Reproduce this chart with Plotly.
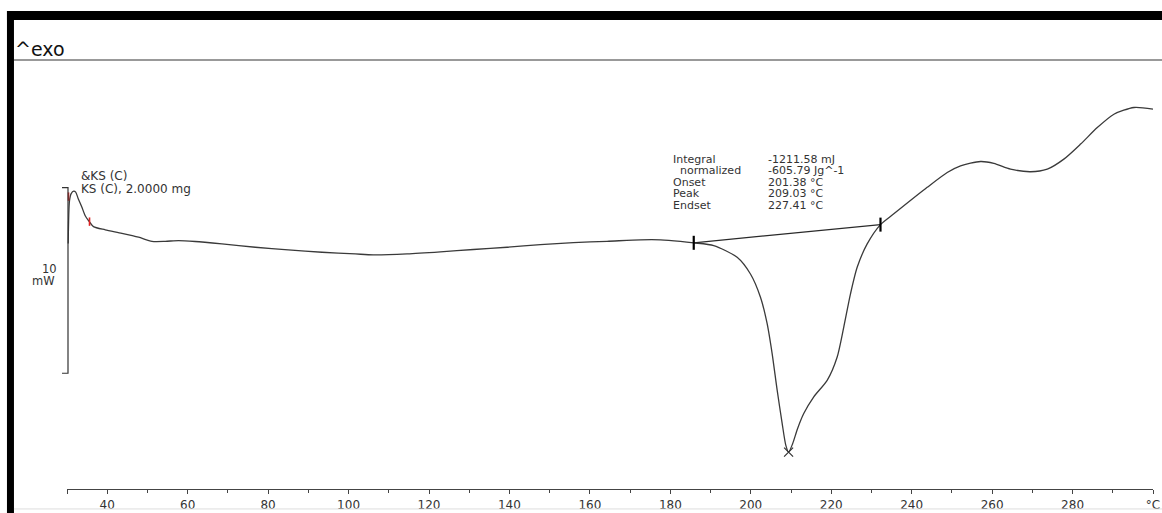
import plotly.graph_objects as go

# ---------------- data ----------------
temperature_c = [30.30, 30.62, 31.04, 31.67, 32.16, 32.79, 33.71, 34.53, 35.35, 36.59,
                 39.50, 43.65, 47.78, 51.12, 54.42, 57.73, 61.88, 68.52, 76.81, 85.01,
                 93.40, 101.68, 106.15, 114.53, 122.82, 131.03, 139.41, 147.69, 155.90, 164.28,
                 172.57, 177.54, 182.51, 185.82, 190.79, 196.61, 199.92, 202.41, 204.07, 205.31,
                 206.56, 207.80, 208.70, 209.40, 210.40, 211.60, 213.17, 215.66, 218.99, 221.48,
                 223.12, 224.79, 226.45, 228.94, 232.25, 235.56, 243.86, 248.84, 252.15, 257.12,
                 260.43, 264.58, 269.56, 273.71, 277.84, 282.00, 286.15, 290.28, 295.26, 300.00]
heat_flow_mw = [-0.16, 2.15, 2.53, 2.66, 2.61, 2.26, 1.79, 1.34, 1.08, 0.75,
                0.58, 0.39, 0.18, -0.04, -0.04, 0.00, -0.05, -0.18, -0.36, -0.50,
                -0.63, -0.72, -0.77, -0.72, -0.61, -0.48, -0.36, -0.22, -0.11, -0.04,
                0.04, 0.04, -0.04, -0.12, -0.27, -0.90, -1.80, -3.05, -4.48, -6.09,
                -8.06, -9.85, -11.02, -11.40, -10.95, -10.15, -9.32, -8.42, -7.53, -6.27,
                -4.66, -2.87, -1.44, -0.18, 0.86, 1.44, 2.87, 3.67, 4.03, 4.26,
                4.16, 3.85, 3.71, 3.85, 4.39, 5.20, 6.09, 6.81, 7.17, 7.08]

limit_T = [185.82, 232.25]          # integration limits (onset / endset markers)
limit_mw = [-0.12, 0.86]
peak_T = [209.40]
peak_mw = [-11.40]
red_T = [30.37, 35.60]              # red evaluation marks at start
red_mw = [2.37, 1.02]

scale_top_mw = 2.85                 # 10 mW scale bar
scale_len_mw = 10.0

tick_vals = [30, 40, 60, 80, 100, 120, 140, 160, 180, 200, 220, 240, 260, 280, 300]
tick_text = ["", "40", "60", "80", "100", "120", "140", "160", "180", "200",
             "220", "240", "260", "280", "°C"]
minor_vals = [50, 70, 90, 110, 130, 150, 170, 190, 210, 230, 250, 270, 290]

eval_labels = ["Integral", "  normalized", "Onset", "Peak", "Endset"]
eval_values = ["-1211.58 mJ", "-605.79 Jg^-1", "201.38 °C", "209.03 °C", "227.41 °C"]

# ---------------- layout helpers ----------------
# target picture is 1162x513; the page is drawn slightly larger to offset
# the capture's page margin.
TW, TH = 1162, 513
W, H = 1170, 521
SX, SY = W / TW, H / TH
L = 67 * SX
R = W - 1152.4 * SX
T = 60 * SY
B = H - 489 * SY
PW, PH = W - L - R, H - T - B


def px(x):
    return (x * SX - L) / PW


def py(y):
    return (H - B - y * SY) / PH


FONT = "DejaVu Sans"
INK = "#333333"

fig = go.Figure()

# DSC curve
fig.add_trace(go.Scatter(
    x=temperature_c, y=heat_flow_mw, mode="lines",
    line=dict(color="#3a3a3a", width=1.3, shape="spline", smoothing=0.7),
    showlegend=False))

# integration baseline
fig.add_trace(go.Scatter(
    x=limit_T, y=limit_mw, mode="lines+markers",
    line=dict(color="#2a2a2a", width=1.2),
    marker=dict(symbol="line-ns-open", size=10, color="black", line=dict(color="black", width=2.2)),
    showlegend=False))

# peak marker
fig.add_trace(go.Scatter(
    x=peak_T, y=peak_mw, mode="markers",
    marker=dict(symbol="x-thin-open", size=9, color="#333333", line=dict(color="#333333", width=1.2)),
    showlegend=False))

# red marks
fig.add_trace(go.Scatter(
    x=red_T, y=red_mw, mode="markers",
    marker=dict(symbol="line-ns-open", size=6, color="#dd2222", line=dict(color="#dd2222", width=1.6)),
    showlegend=False))

shapes = [
    # black frame (top band and left bar)
    dict(type="rect", xref="paper", yref="paper", x0=px(7), x1=px(1162), y0=py(19), y1=py(10),
         fillcolor="black", line=dict(width=0), layer="above"),
    dict(type="rect", xref="paper", yref="paper", x0=px(7), x1=px(14), y0=py(513), y1=py(10),
         fillcolor="black", line=dict(width=0), layer="above"),
    # gray separator under "^exo"
    dict(type="line", xref="paper", yref="paper", x0=px(14), x1=px(1162), y0=py(59), y1=py(59),
         line=dict(color="#777777", width=1.5)),
    # light bottom line
    dict(type="line", xref="paper", yref="paper", x0=px(14), x1=px(1162), y0=py(509), y1=py(509),
         line=dict(color="#dddddd", width=1)),
    # 10 mW scale bracket
    dict(type="path", xref="paper", yref="y",
         path="M {a},{t} L {b},{t} L {b},{u} L {a},{u}".format(
             a=px(62), b=px(68), t=scale_top_mw, u=scale_top_mw - scale_len_mw),
         line=dict(color=INK, width=1.2)),
]

annotations = [
    dict(text="^exo", x=px(13), y=py(48), xanchor="left", yanchor="middle",
         font=dict(family=FONT, size=19, color="#111111")),
    dict(text="&KS (C)", x=px(79), y=py(175.5), xanchor="left", yanchor="middle",
         font=dict(family=FONT, size=12, color=INK)),
    dict(text="KS (C), 2.0000 mg", x=px(79), y=py(188), xanchor="left", yanchor="middle",
         font=dict(family=FONT, size=12, color=INK)),
    dict(text="10", x=px(50), y=py(268), xanchor="center", yanchor="middle",
         font=dict(family=FONT, size=11.5, color=INK)),
    dict(text="mW", x=px(44), y=py(280.5), xanchor="center", yanchor="middle",
         font=dict(family=FONT, size=11.5, color=INK)),
]
for i, (lab, val) in enumerate(zip(eval_labels, eval_values)):
    yy = 158.5 + 11.5 * i
    annotations.append(dict(text=lab.replace(" ", "&nbsp;"), x=px(671), y=py(yy), xanchor="left",
                            yanchor="middle", font=dict(family=FONT, size=11, color=INK)))
    annotations.append(dict(text=val, x=px(766), y=py(yy), xanchor="left",
                            yanchor="middle", font=dict(family=FONT, size=11, color=INK)))
for a in annotations:
    a.update(xref="paper", yref="paper", showarrow=False)

fig.update_layout(
    width=W, height=H,
    margin=dict(l=L, r=R, t=T, b=B, pad=0),
    paper_bgcolor="white", plot_bgcolor="white",
    shapes=shapes, annotations=annotations,
    xaxis=dict(range=[30, 300], showgrid=False, zeroline=False,
               showline=True, linecolor="#444444", linewidth=1.2,
               tickmode="array", tickvals=tick_vals, ticktext=tick_text,
               ticks="outside", ticklen=4, tickwidth=1.2, tickcolor="#444444",
               tickfont=dict(family=FONT, size=12, color=INK),
               minor=dict(tickmode="array", tickvals=minor_vals,
                          ticks="outside", ticklen=3, tickwidth=1, tickcolor="#444444")),
    yaxis=dict(range=[-13.387, 9.677], visible=False),
    showlegend=False,
)

post = (
    "document.documentElement.style.margin='0px';"
    "document.body.style.margin='0px';"
    "document.body.style.overflow='hidden';"
    "document.documentElement.style.overflow='hidden';"
)

fig.write_html("out.html", config={"displayModeBar": False}, post_script=post)
